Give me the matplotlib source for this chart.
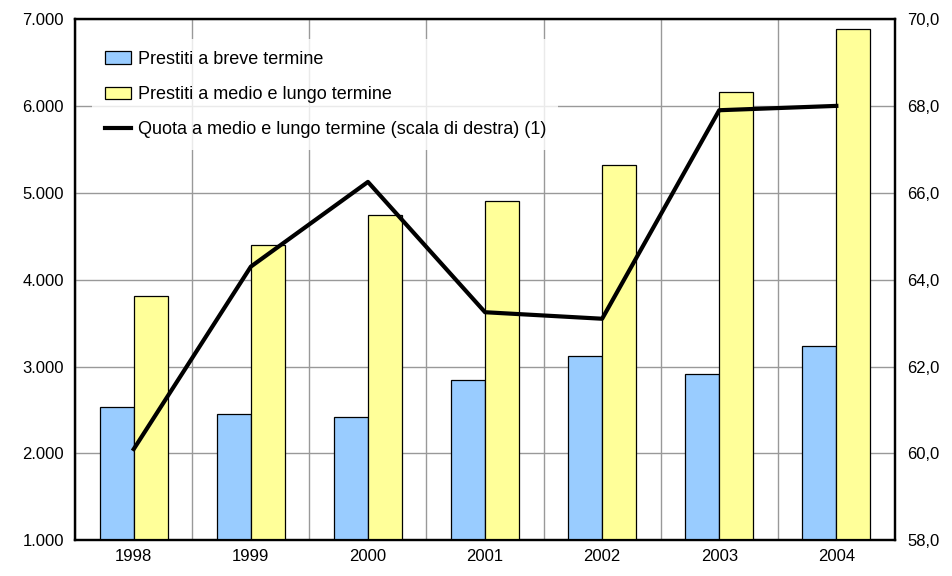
import numpy as np
import matplotlib
matplotlib.use("Agg")
from matplotlib import pyplot as plt, patches
from matplotlib.lines import Line2D

plt.rcParams['font.family'] = ['Liberation Sans', 'DejaVu Sans']

years = ['1998', '1999', '2000', '2001', '2002', '2003', '2004']
breve = [2530, 2450, 2420, 2850, 3120, 2910, 3240]
medio_lungo = [3810, 4400, 4740, 4900, 5320, 6160, 6880]
quota = [60.1, 64.3, 66.25, 63.25, 63.1, 67.9, 68.0]

left_ticks = [1000, 2000, 3000, 4000, 5000, 6000, 7000]
right_ticks = [58, 60, 62, 64, 66, 68, 70]

blue = '#99CCFF'
yellow = '#FFFF99'


def fmt_thousands(v):
    return f"{v:,.0f}".replace(',', '.')


def main():
    fig = plt.figure(figsize=(9.52, 5.76), dpi=100)
    ax = fig.add_axes([0.079, 0.062, 0.861, 0.905])
    x = np.arange(len(years))
    w = 0.29

    ax.bar(x - w / 2, breve, w, color=blue, edgecolor='black', linewidth=0.9, zorder=3)
    ax.bar(x + w / 2, medio_lungo, w, color=yellow, edgecolor='black', linewidth=0.9, zorder=3)

    ax.set_ylim(1000, 7000)
    ax.set_xlim(-0.5, len(years) - 0.5)
    ax.set_yticks(left_ticks)
    ax.set_yticklabels([fmt_thousands(v) for v in left_ticks])
    ax.set_xticks(x)
    ax.set_xticklabels(years)
    ax.set_xticks(np.arange(-0.5, len(years)), minor=True)
    ax.grid(axis='y', color='#999999', linewidth=1, zorder=0)
    ax.grid(axis='x', which='minor', color='#999999', linewidth=1, zorder=0)
    ax.tick_params(which='both', length=0, labelsize=12, pad=6)
    ax.tick_params(axis='y', pad=8)
    for s in ax.spines.values():
        s.set_linewidth(1.6)

    ax2 = ax.twinx()
    ax2.plot(x, quota, color='black', linewidth=3, zorder=5)
    ax2.set_ylim(58, 70)
    ax2.set_yticks(right_ticks)
    ax2.set_yticklabels([f"{v:.1f}".replace('.', ',') for v in right_ticks])
    ax2.tick_params(length=0, labelsize=12, pad=9)
    for s in ax2.spines.values():
        s.set_linewidth(1.6)

    handles = [
        patches.Patch(facecolor=blue, edgecolor='black', linewidth=0.9),
        patches.Patch(facecolor=yellow, edgecolor='black', linewidth=0.9),
        Line2D([0], [0], color='black', linewidth=3),
    ]
    labels = ['Prestiti a breve termine', 'Prestiti a medio e lungo termine',
              'Quota a medio e lungo termine (scala di destra) (1)']
    leg = ax2.legend(handles, labels, loc='upper left', bbox_to_anchor=(0.021, 0.962),
                     frameon=True, fontsize=13, labelspacing=1.0, handlelength=1.45,
                     handleheight=0.7, handletextpad=0.38, borderaxespad=0, borderpad=0.68,
                     fancybox=False)
    leg.get_frame().set_facecolor('white')
    leg.get_frame().set_edgecolor('white')
    leg.get_frame().set_linewidth(0)

    fig.savefig('out.png', dpi=100)


if __name__ == "__main__":
    main()
